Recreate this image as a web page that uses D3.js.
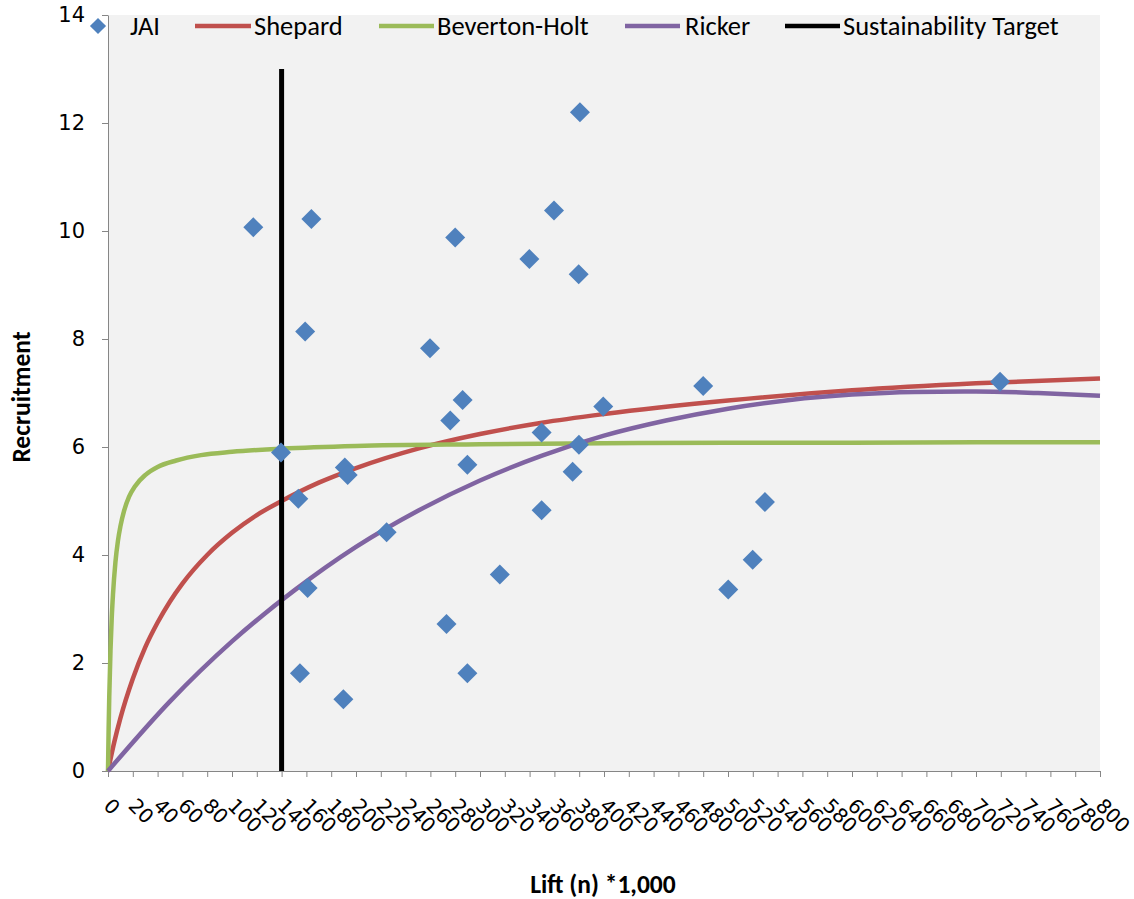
<!doctype html>
<html>
  <head>
    <script src="https://cdnjs.cloudflare.com/ajax/libs/d3/7.8.5/d3.min.js"></script>
    <style>
      body { margin: 0; background: #fff; }
      .tick text { font-family: "DejaVu Sans", Verdana, sans-serif; font-size: 21px; fill: #000; }
      .x-axis .tick text { font-size: 20px; }
      .domain, .tick line { stroke: #868686; }
      .legend text { font-family: Carlito, Lato, sans-serif; font-size: 26.5px; fill: #000; }
      .title { font-family: Carlito, Lato, sans-serif; font-size: 25.5px; font-weight: bold; fill: #000; }
    </style>
  </head>
  <body>
    <svg width="1134" height="899"></svg>
    <script>
      // JAI observations: lift (thousands) vs recruitment
      var jaiLift = [117.2, 164, 159, 139.5, 153.5, 161, 154.8, 191, 193.3, 189.8, 224.7,
                     259.7, 280, 276, 286, 289.8, 273, 289.8, 316, 339.8, 359.7, 380.6,
                     379.6, 349.7, 349.7, 379.8, 374.7, 399.4, 480, 529.8, 519.9, 500.2, 719.4];
      var jaiRecruit = [10.07, 10.22, 8.14, 5.9, 5.04, 3.39, 1.81, 5.62, 5.48, 1.33, 4.42,
                        7.83, 9.88, 6.49, 6.87, 5.67, 2.72, 1.81, 3.64, 9.48, 10.38, 12.2,
                        9.2, 6.27, 4.83, 6.04, 5.54, 6.75, 7.13, 4.98, 3.91, 3.36, 7.21];

      // fitted curves
      var shepardLift = [0, 5, 10, 20, 30, 40, 50, 60, 80, 100, 120, 140, 170, 200, 250, 300, 350, 400, 500, 600, 700, 800];
      var shepardR = [0, 0.53, 0.98, 1.71, 2.29, 2.75, 3.14, 3.47, 4.0, 4.41, 4.74, 5.0, 5.34, 5.61, 5.97, 6.24, 6.45, 6.61, 6.86, 7.05, 7.18, 7.27];

      var bhLift = [0, 0.5, 1, 2, 3, 4, 6, 8, 10, 13, 17, 22, 30, 40, 55, 75, 100, 140, 200, 300, 400, 500, 600, 700, 800];
      var bhR = [0, 0.77, 1.36, 2.23, 2.83, 3.26, 3.87, 4.26, 4.53, 4.82, 5.08, 5.28, 5.48, 5.63, 5.75, 5.85, 5.91, 5.97, 6.02, 6.05, 6.07, 6.08, 6.08, 6.09, 6.09];

      var rickerLift = [0, 50, 100, 150, 200, 250, 300, 350, 400, 450, 500, 550, 600, 650, 700, 750, 800];
      var rickerR = [0, 1.29, 2.4, 3.34, 4.15, 4.82, 5.38, 5.84, 6.21, 6.49, 6.71, 6.87, 6.97, 7.02, 7.03, 7.0, 6.95];

      var targetLift = 140;
      var targetRange = [0, 13];

      var xTicks = d3.range(0, 801, 20);
      var yTicks = [0, 2, 4, 6, 8, 10, 12, 14];

      var legendItems = [
        {name: "JAI", color: "#4F81BD", type: "marker", x: 98, w: 0, tx: 130},
        {name: "Shepard", color: "#C0504D", type: "line", x: 195, w: 56, tx: 254},
        {name: "Beverton-Holt", color: "#9BBB59", type: "line", x: 379, w: 55, tx: 437},
        {name: "Ricker", color: "#8064A2", type: "line", x: 625, w: 55, tx: 685},
        {name: "Sustainability Target", color: "#000000", type: "line", x: 785, w: 55, tx: 843}
      ];

      var svg = d3.select("svg");
      var plotL = 108, plotR = 1100, plotT = 15, plotB = 771;

      var x = d3.scaleLinear().domain([0, 800]).range([plotL, plotR]);
      var y = d3.scaleLinear().domain([0, 14]).range([plotB, plotT]);

      svg.append("rect")
        .attr("x", plotL).attr("y", plotT)
        .attr("width", plotR - plotL).attr("height", plotB - plotT)
        .attr("fill", "#F2F2F2");

      var xAxis = svg.append("g")
        .attr("class", "x-axis")
        .attr("transform", `translate(0,${plotB})`)
        .call(d3.axisBottom(x).tickValues(xTicks).tickSize(6).tickSizeOuter(0));
      xAxis.selectAll("text")
        .attr("text-anchor", "start")
        .attr("dominant-baseline", "central")
        .attr("dy", null)
        .attr("y", 0)
        .attr("transform", "translate(-1,31) rotate(45)");

      svg.append("g")
        .attr("transform", `translate(${plotL},0)`)
        .call(d3.axisLeft(y).tickValues(yTicks).tickSize(6).tickPadding(17).tickSizeOuter(0));

      var line = d3.line()
        .x(d => x(d[0]))
        .y(d => y(d[1]))
        .curve(d3.curveMonotoneX);

      var curves = [
        {lift: shepardLift, r: shepardR, color: "#C0504D"},
        {lift: bhLift, r: bhR, color: "#9BBB59"},
        {lift: rickerLift, r: rickerR, color: "#8064A2"}
      ];

      svg.append("g").selectAll("path")
        .data(curves)
        .enter()
        .append("path")
          .attr("d", c => line(c.lift.map((v, i) => [v, c.r[i]])))
          .attr("fill", "none")
          .attr("stroke", c => c.color)
          .attr("stroke-width", 4.5);

      svg.append("line")
        .attr("x1", x(targetLift)).attr("x2", x(targetLift))
        .attr("y1", y(targetRange[0])).attr("y2", y(targetRange[1]))
        .attr("stroke", "#000")
        .attr("stroke-width", 5);

      var diamond = d3.symbol().type(d3.symbolSquare).size(200);

      svg.append("g").selectAll("path")
        .data(jaiLift)
        .enter()
        .append("path")
          .attr("d", diamond)
          .attr("transform", (d, i) => `translate(${x(d)},${y(jaiRecruit[i])}) rotate(45)`)
          .attr("fill", "#4F81BD");

      // legend
      var legend = svg.append("g").attr("class", "legend");
      var ly = 26;
      legendItems.forEach(function(it) {
        if (it.type === "marker") {
          legend.append("path")
            .attr("d", d3.symbol().type(d3.symbolSquare).size(130))
            .attr("transform", `translate(${it.x},${ly}) rotate(45)`)
            .attr("fill", it.color);
        } else {
          legend.append("line")
            .attr("x1", it.x).attr("x2", it.x + it.w)
            .attr("y1", ly).attr("y2", ly)
            .attr("stroke", it.color)
            .attr("stroke-width", 4.5);
        }
        legend.append("text")
          .attr("x", it.tx).attr("y", ly)
          .attr("dominant-baseline", "central")
          .text(it.name);
      });

      svg.append("text")
        .attr("class", "title")
        .attr("text-anchor", "middle")
        .attr("transform", "translate(30,397) rotate(-90)")
        .text("Recruitment");

      svg.append("text")
        .attr("class", "title")
        .attr("text-anchor", "middle")
        .attr("x", 603).attr("y", 893)
        .text("Lift (n) *1,000");
    </script>
  </body>
</html>
